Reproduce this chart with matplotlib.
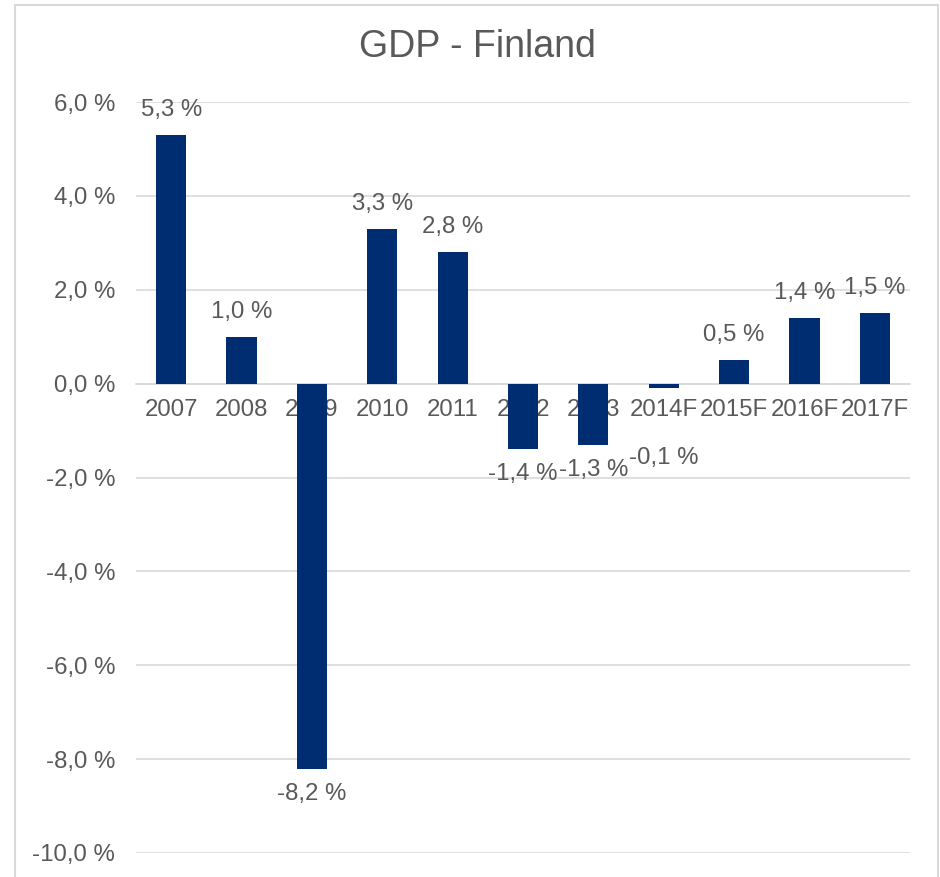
import matplotlib
matplotlib.use("Agg")
import matplotlib.pyplot as plt
from matplotlib.patches import Rectangle
from matplotlib.ticker import FuncFormatter, MultipleLocator

years = ["2007", "2008", "2009", "2010", "2011", "2012", "2013",
         "2014F", "2015F", "2016F", "2017F"]
gdp = [5.3, 1.0, -8.2, 3.3, 2.8, -1.4, -1.3, -0.1, 0.5, 1.4, 1.5]

grey = "#595959"
navy = "#002D72"
fs = 17.3
plt.rcParams["font.family"] = ["Liberation Sans", "DejaVu Sans"]


def pct(v, pos=None):
    return ("%.1f %%" % v).replace(".", ",")


fig = plt.figure(figsize=(9.4, 8.77), dpi=100)
# chart border
fig.patches.append(Rectangle((15 / 940, -0.05), 923 / 940, 1.05 - 5 / 877,
                             transform=fig.transFigure, fill=False,
                             edgecolor="#D9D9D9", lw=1.5))

ax = fig.add_axes([136 / 940, 1 - 853 / 877, 774 / 940, 751 / 877])
x = range(len(years))
ax.bar(x, gdp, width=0.43, color=navy, zorder=3)

ax.set_xlim(-0.5, len(years) - 0.5)
ax.set_ylim(-10, 6)
ax.yaxis.set_major_locator(MultipleLocator(2))
ax.yaxis.set_major_formatter(FuncFormatter(pct))
ax.grid(axis="y", color="#D9D9D9", lw=1.2)
for s in ["top", "right", "left"]:
    ax.spines[s].set_visible(False)
ax.spines["bottom"].set_position(("data", 0))
ax.spines["bottom"].set_color("#D9D9D9")
ax.spines["bottom"].set_linewidth(1.2)

ax.set_xticks(list(x))
ax.set_xticklabels(years)
ax.tick_params(axis="x", length=0, pad=11, labelsize=fs, labelcolor=grey)
ax.tick_params(axis="y", length=0, pad=15, labelsize=fs, labelcolor=grey)

for i, v in enumerate(gdp):
    if v >= 0:
        off = 18
    elif v > -0.5:
        off = -50
    else:
        off = -18
    ax.annotate(pct(v), (i, v), xytext=(0, off), textcoords="offset points",
                ha="center", va="center", fontsize=fs, color=grey,
                zorder=4)

fig.text(477 / 940, 1 - 47 / 877, "GDP - Finland", ha="center", va="center",
         fontsize=27, color=grey)

fig.savefig("out.png", dpi=100)
